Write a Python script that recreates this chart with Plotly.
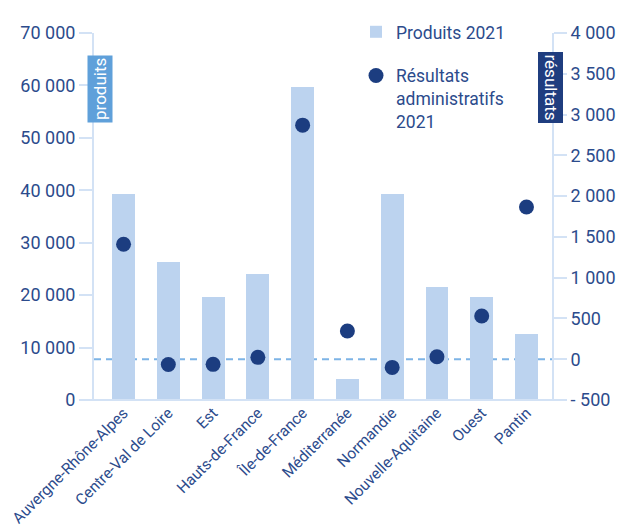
import plotly.graph_objects as go

# Regions and their 2021 figures
regions = [
    "Auvergne-Rhône-Alpes", "Centre-Val de Loire", "Est", "Hauts-de-France",
    "Île-de-France", "Méditerranée", "Normandie", "Nouvelle-Aquitaine",
    "Ouest", "Pantin",
]
produits_2021 = [39300, 26400, 19600, 24100, 59700, 4000, 39300, 21600, 19600, 12600]
resultats_2021 = [1410, -65, -63, 23, 2870, 346, -100, 31, 530, 1866]

# Axis ticks (French thousands separator)
left_tickvals = [0, 10000, 20000, 30000, 40000, 50000, 60000, 70000]
left_ticktext = ["0", "10 000", "20 000", "30 000", "40 000", "50 000", "60 000", "70 000"]
right_tickvals = [-500, 0, 500, 1000, 1500, 2000, 2500, 3000, 3500, 4000]
right_ticktext = ["- 500", "0", "500", "1 000", "1 500", "2 000", "2 500", "3 000", "3 500", "4 000"]

FONT = "Roboto, Liberation Sans, sans-serif"
TEXT = "#2c4b8c"
AXIS = "#d3e2f5"
BAR = "#bcd3ef"
DOT = "#1c3d80"

fig = go.Figure()

fig.add_trace(go.Bar(
    x=regions, y=produits_2021, name="Produits 2021",
    marker=dict(color=BAR, line=dict(width=0)), width=0.51,
    legendgroup="a", yaxis="y",
))
fig.add_trace(go.Scatter(
    x=regions, y=resultats_2021, name="Résultats<br>administratifs<br>2021",
    mode="markers", marker=dict(color=DOT, size=15),
    legendgroup="b", yaxis="y2",
))

# Zero line of the results axis
fig.add_shape(type="line", xref="paper", x0=0, x1=1, yref="y2", y0=0, y1=0,
              line=dict(color="#7db4e6", width=2, dash="7px,5px"), layer="below")
# Baseline spanning both tick columns
fig.add_shape(type="line", xref="paper", x0=-0.03, x1=1.03, yref="paper", y0=0, y1=0,
              line=dict(color=AXIS, width=2))

fig.update_layout(
    width=623, height=527,
    margin=dict(l=94, r=71, t=33, b=127, autoexpand=False),
    paper_bgcolor="white", plot_bgcolor="white",
    font=dict(family=FONT, color=TEXT, size=18),
    showlegend=True,
    legend=dict(x=(356 - 94) / 458, y=1.052, xanchor="left", yanchor="top",
                font=dict(size=17.5, color=TEXT), valign="top",
                tracegroupgap=18, bgcolor="rgba(0,0,0,0)"),
    xaxis=dict(
        range=[-0.66, 9.57], showline=False, ticks="", showgrid=False,
        tickangle=-45, tickfont=dict(size=15.5, color=TEXT), automargin=False,
    ),
    yaxis=dict(
        range=[0, 70000], tickvals=left_tickvals, ticktext=left_ticktext,
        showgrid=False, zeroline=False, showline=True, linecolor=AXIS, linewidth=2,
        ticks="outside", ticklen=13, tickcolor=AXIS, tickwidth=2,
        tickfont=dict(size=18, color=TEXT), automargin=False,
    ),
    yaxis2=dict(
        range=[-500, 4000], tickvals=right_tickvals, ticktext=right_ticktext,
        overlaying="y", side="right",
        showgrid=False, zeroline=False, showline=True, linecolor=AXIS, linewidth=2,
        ticks="outside", ticklen=13, tickcolor=AXIS, tickwidth=2,
        tickfont=dict(size=18, color=TEXT), automargin=False,
    ),
    bargap=0,
)

# Axis title badges
fig.add_annotation(
    text="produits", xref="paper", yref="paper", x=(99.5 - 94) / 458, y=(400 - 89.5) / 367,
    xanchor="center", yanchor="middle",
    showarrow=False, textangle=-90, bgcolor="#5fa0da", borderpad=2,
    font=dict(family=FONT, size=17, color="white"),
)
fig.add_annotation(
    text="résultats", xref="paper", yref="paper", x=(550.5 - 94) / 458, y=(400 - 87) / 367,
    xanchor="center", yanchor="middle",
    showarrow=False, textangle=90, bgcolor="#1f3d7f", borderpad=2,
    font=dict(family=FONT, size=17, color="white"),
)

fig.write_html("out.html")
